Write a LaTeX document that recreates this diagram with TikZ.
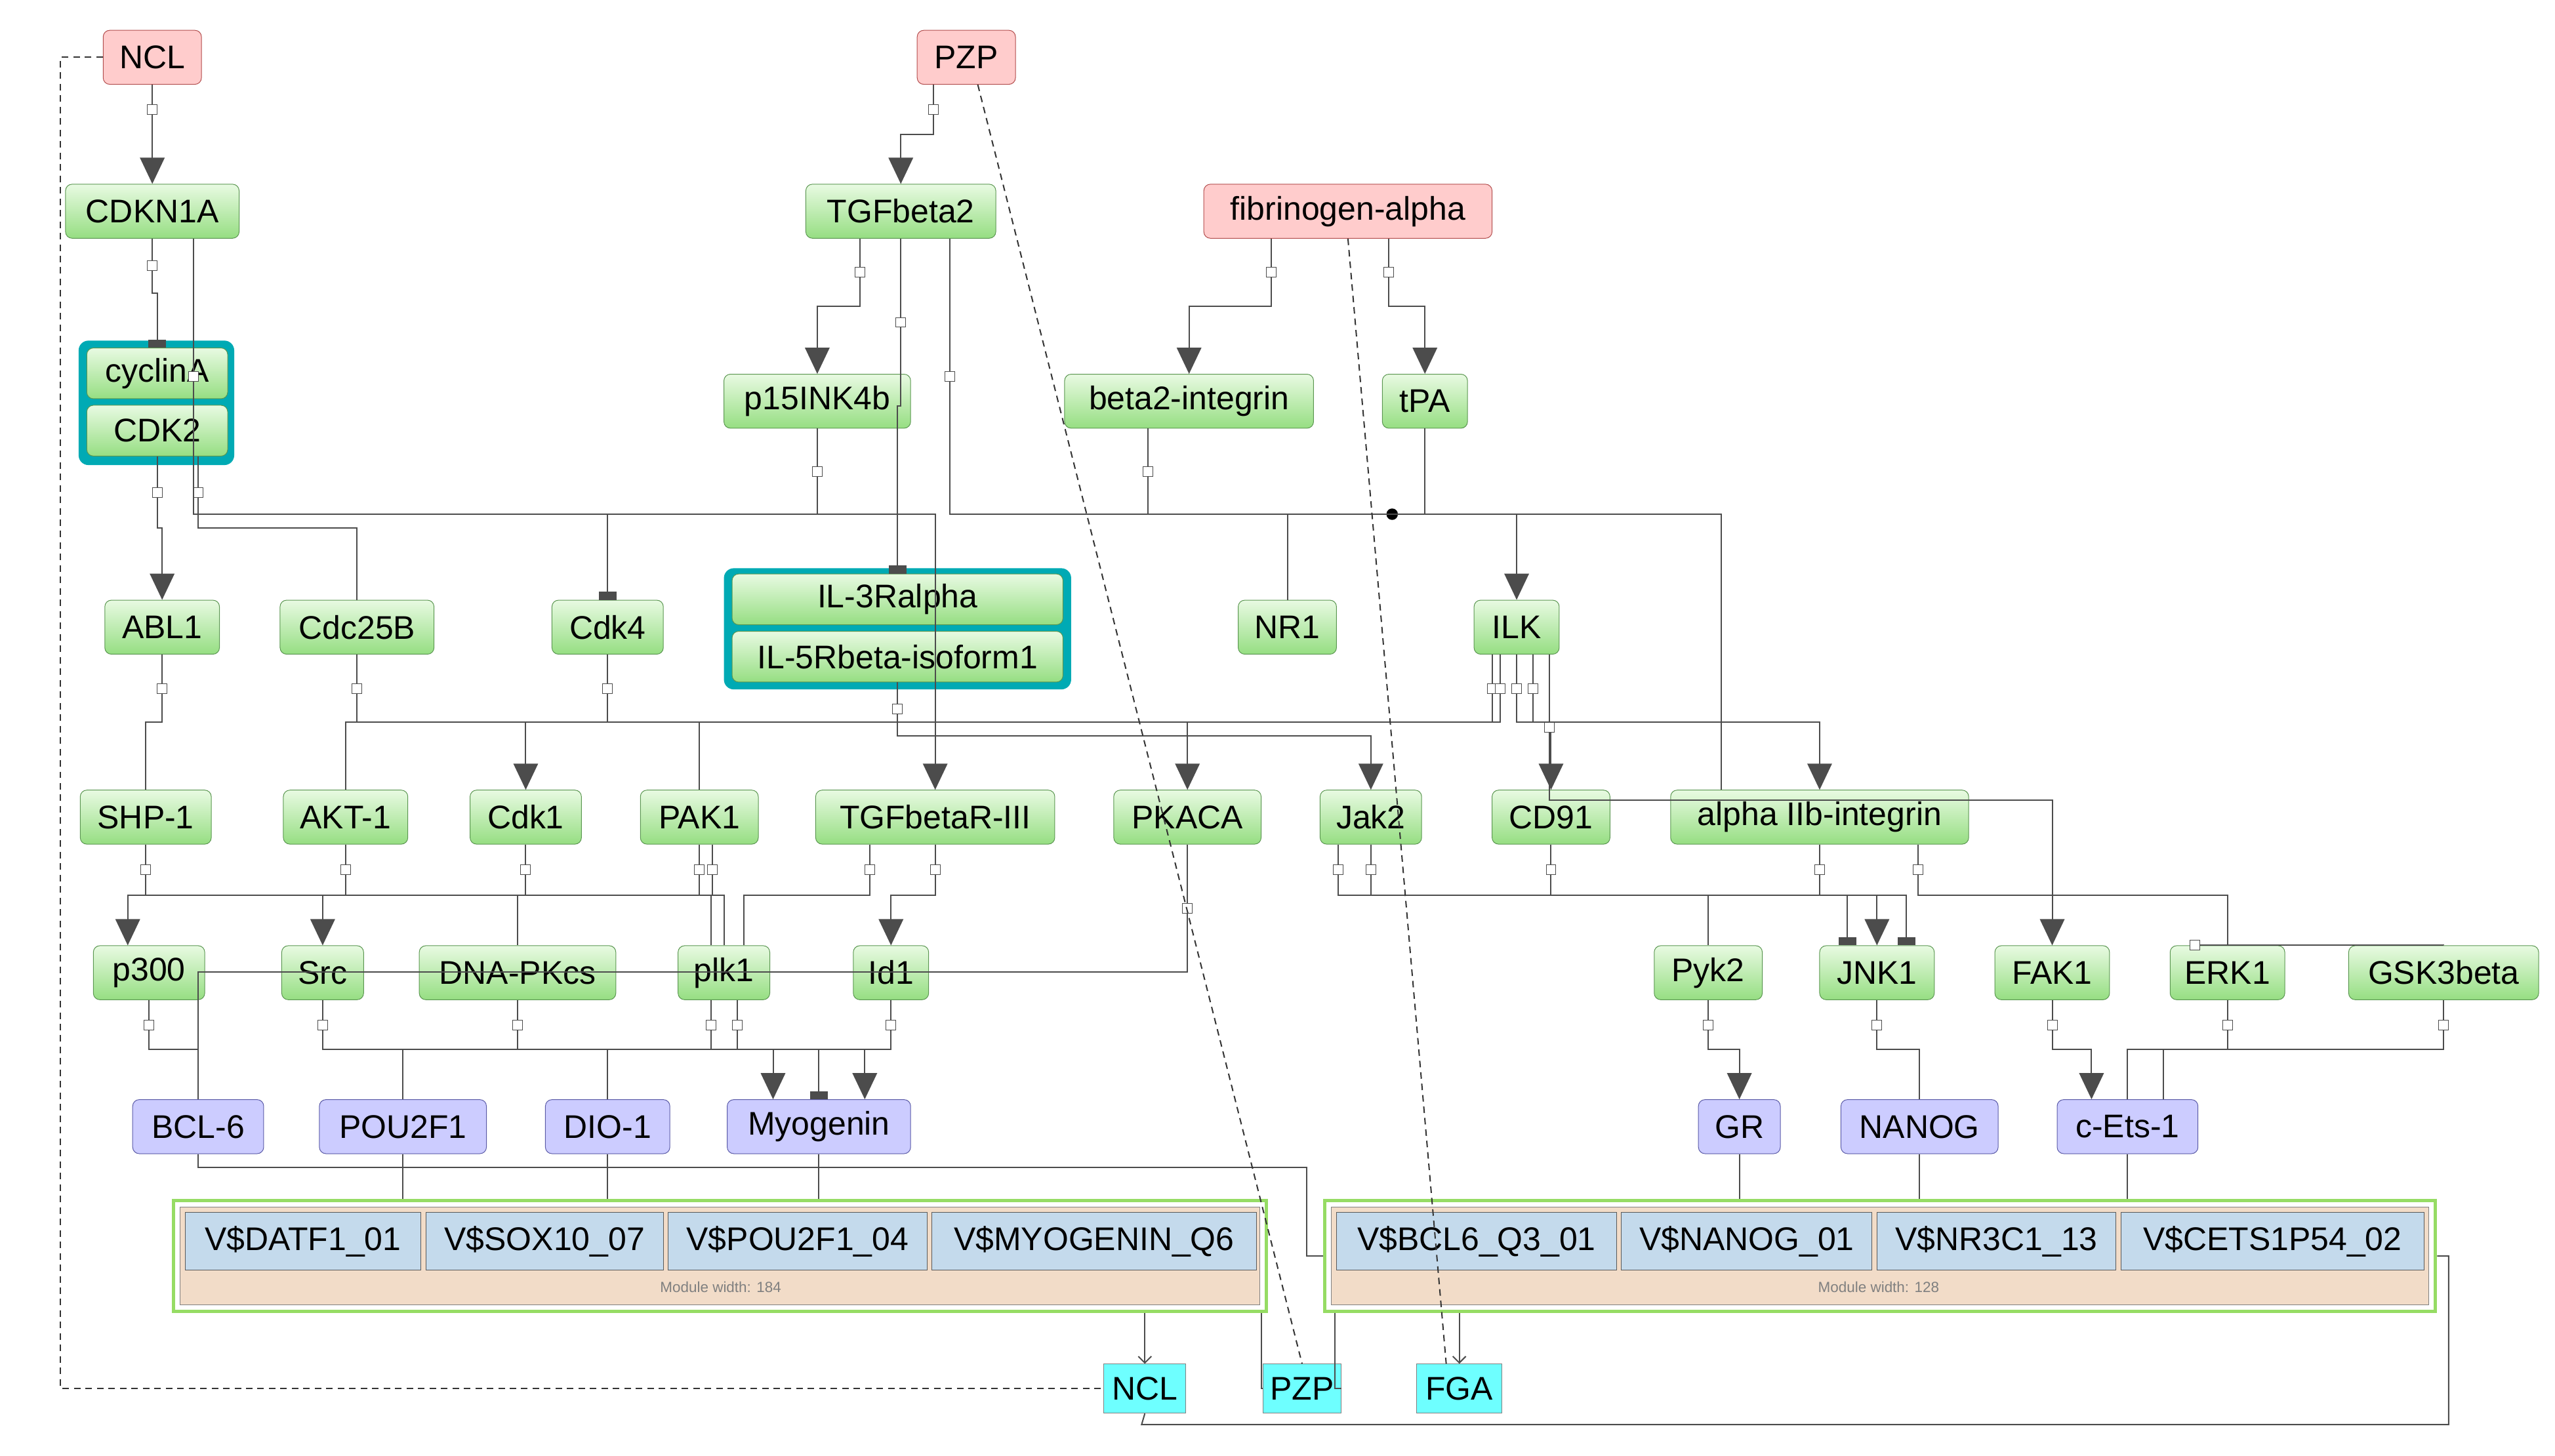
\documentclass[tikz,border=0pt]{standalone}
\usepackage{fontspec}
\setmainfont{Liberation Sans}
\usetikzlibrary{arrows.meta,calc,positioning}
\definecolor{gtop}{RGB}{232,250,226}
\definecolor{gbot}{RGB}{150,222,130}
\definecolor{gline}{RGB}{90,150,80}
\definecolor{pkfill}{RGB}{255,204,204}
\definecolor{pufill}{RGB}{204,204,255}
\definecolor{cyfill}{RGB}{110,255,255}
\definecolor{tffill}{RGB}{196,218,236}
\definecolor{modfill}{RGB}{242,220,200}
\definecolor{modline}{RGB}{150,220,100}
\definecolor{cplx}{RGB}{0,170,180}
\tikzset{
  box/.style={draw=gray!70!black, rounded corners=4pt, minimum height=33pt, inner sep=2pt, font=\fontsize{20}{24}\selectfont},
  gn/.style={box, top color=gtop, bottom color=gbot, draw=gline},
  pk/.style={box, fill=pkfill, draw=red!40!gray},
  pu/.style={box, fill=pufill, draw=blue!30!gray},
  cy/.style={box, fill=cyfill, rounded corners=0pt, draw=gray, minimum height=30pt},
  tf/.style={draw=gray!70!black, fill=tffill, minimum height=35pt, inner sep=1pt, font=\fontsize{20}{24}\selectfont},
  ln/.style={draw=gray!60!black, line width=0.8pt},
  dsh/.style={draw=black!80, line width=0.8pt, dash pattern=on 4pt off 3pt},
  tri/.style={-{Triangle[width=15pt,length=16pt]}, color=gray!60!black},
  bar/.style={-{Rectangle[width=11pt,length=5pt]}, color=gray!60!black},
  sq/.style={draw=gray!60!black, fill=white, minimum size=6pt, inner sep=0pt},
}
% link with a little square on its first leg
\newcommand\lnk[3][]{%
  \coordinate (ls) at (#2); \coordinate (lt) at (#3);
  \draw[ln,#1] (ls) |- ($(ls)!.5!(lt)$) -| (lt);
  \node[sq] at ($(ls)!.25!(ls |- lt)$) {};}
\begin{document}
\begin{tikzpicture}[x=1pt,y=-1pt]
\useasboundingbox (0,0) rectangle (1560,889);

% sources
\node[pk, minimum width=60pt] (ncl) at (93,35) {NCL};
\node[pk, minimum width=60pt] (pzp) at (590,35) {PZP};
\node[pk, minimum width=176pt] (fib) at (823,129) {fibrinogen-alpha};

% row 1-2
\node[gn, minimum width=106pt] (cdkn) at (93,129) {CDKN1A};
\node[gn, minimum width=116pt] (tgf) at (550,129) {TGFbeta2};
\fill[cplx, rounded corners=6pt] (48,208) rectangle (143,284);
\node[gn, minimum width=86pt, minimum height=31pt] (cyc) at (96,228) {cyclinA};
\node[gn, minimum width=86pt, minimum height=31pt] (cdk2) at (96,263) {CDK2};
\node[gn, minimum width=114pt] (p15) at (499,245) {p15INK4b};
\node[gn, minimum width=152pt] (b2i) at (726,245) {beta2-integrin};
\node[gn, minimum width=52pt] (tpa) at (870,245) {tPA};

% row 3
\node[gn, minimum width=70pt] (abl) at (99,383) {ABL1};
\node[gn, minimum width=94pt] (cdc) at (218,383) {Cdc25B};
\node[gn, minimum width=68pt] (cdk4) at (371,383) {Cdk4};
\fill[cplx, rounded corners=6pt] (442,347) rectangle (654,421);
\node[gn, minimum width=202pt, minimum height=31pt] (il3) at (548,366) {IL-3Ralpha};
\node[gn, minimum width=202pt, minimum height=31pt] (il5) at (548,401) {IL-5Rbeta-isoform1};
\node[gn, minimum width=60pt] (nr1) at (786,383) {NR1};
\node[gn, minimum width=52pt] (ilk) at (926,383) {ILK};

% row 4
\node[gn, minimum width=80pt] (shp) at (89,499) {SHP-1};
\node[gn, minimum width=76pt] (akt) at (211,499) {AKT-1};
\node[gn, minimum width=68pt] (cdk1) at (321,499) {Cdk1};
\node[gn, minimum width=72pt] (pak1) at (427,499) {PAK1};
\node[gn, minimum width=146pt] (tgfr) at (571,499) {TGFbetaR-III};
\node[gn, minimum width=90pt] (pka) at (725,499) {PKACA};
\node[gn, minimum width=62pt] (jak2) at (837,499) {Jak2};
\node[gn, minimum width=72pt] (cd91) at (947,499) {CD91};
\node[gn, minimum width=182pt] (aiib) at (1111,499) {alpha IIb-integrin};

% row 5
\node[gn, minimum width=68pt] (p300) at (91,594) {p300};
\node[gn, minimum width=50pt] (src) at (197,594) {Src};
\node[gn, minimum width=120pt] (dnapk) at (316,594) {DNA-PKcs};
\node[gn, minimum width=56pt] (plk1) at (442,594) {plk1};
\node[gn, minimum width=46pt] (id1) at (544,594) {Id1};
\node[gn, minimum width=66pt] (pyk2) at (1043,594) {Pyk2};
\node[gn, minimum width=70pt] (jnk1) at (1146,594) {JNK1};
\node[gn, minimum width=70pt] (fak1) at (1253,594) {FAK1};
\node[gn, minimum width=70pt] (erk1) at (1360,594) {ERK1};
\node[gn, minimum width=116pt] (gsk) at (1492,594) {GSK3beta};

% transcription factors
\node[pu, minimum width=80pt] (bcl6) at (121,688) {BCL-6};
\node[pu, minimum width=102pt] (pou) at (246,688) {POU2F1};
\node[pu, minimum width=76pt] (dio) at (371,688) {DIO-1};
\node[pu, minimum width=112pt] (myog) at (500,688) {Myogenin};
\node[pu, minimum width=50pt] (gr) at (1062,688) {GR};
\node[pu, minimum width=96pt] (nanog) at (1172,688) {NANOG};
\node[pu, minimum width=86pt] (cets) at (1299,688) {c-Ets-1};

% modules
\node[draw=modline, line width=2pt, minimum width=667pt, minimum height=68pt] (lmod) at (439.5,767) {};
\fill[modfill, draw=gray] (110,737) rectangle (769,797);
\node[draw=modline, line width=2pt, minimum width=678pt, minimum height=68pt] (rmod) at (1148,767) {};
\fill[modfill, draw=gray] (813,737) rectangle (1483,797);
\node[tf, minimum width=144pt] (t1) at (185,758) {V\$DATF1\_01};
\node[tf, minimum width=145pt] (t2) at (332.5,758) {V\$SOX10\_07};
\node[tf, minimum width=158pt] (t3) at (487,758) {V\$POU2F1\_04};
\node[tf, minimum width=198pt] (t4) at (668,758) {V\$MYOGENIN\_Q6};
\node[tf, minimum width=171pt] (t5) at (901.5,758) {V\$BCL6\_Q3\_01};
\node[tf, minimum width=153pt] (t6) at (1066.5,758) {V\$NANOG\_01};
\node[tf, minimum width=146pt] (t7) at (1219,758) {V\$NR3C1\_13};
\node[tf, minimum width=185pt] (t8) at (1387.5,758) {V\$CETS1P54\_02};
\node[font=\fontsize{9}{10}\selectfont, text=gray] (lw) at (440,786) {Module width: 184};
\node[font=\fontsize{9}{10}\selectfont, text=gray] (rw) at (1147,786) {Module width: 128};

% targets
\node[cy, minimum width=50pt] (nclc) at (699,848) {NCL};
\node[cy, minimum width=48pt] (pzpc) at (795,848) {PZP};
\node[cy, minimum width=52pt] (fgac) at (891,848) {FGA};

% links
\lnk[tri]{ncl.south}{cdkn.north}
\lnk[tri]{[xshift=-20pt]pzp.south}{tgf.north}
\lnk[tri]{[xshift=-47pt]fib.south}{b2i.north}
\lnk[tri]{[xshift=25pt]fib.south}{tpa.north}
\lnk[bar]{cdkn.south}{cyc.north}
\lnk[tri]{[xshift=-25pt]tgf.south}{p15.north}
\lnk[bar]{tgf.south}{il3.north}
\lnk[tri]{cdk2.south}{abl.north}
\lnk{[xshift=25pt]cdk2.south}{cdc.north}
\lnk[bar]{p15.south}{cdk4.north}
\lnk[tri]{[xshift=-25pt]b2i.south}{ilk.north}
\draw[ln] (tpa.south) |- (850,314) -| (nr1.north);
\fill (850,314) circle (3.5pt);
\lnk{abl.south}{shp.north}
\lnk[tri]{cdc.south}{cdk1.north}
\lnk{cdk4.south}{pak1.north}
\lnk[tri]{il5.south}{jak2.north}
\lnk[tri]{[xshift=-15pt]ilk.south}{pka.north}
\lnk{[xshift=-10pt]ilk.south}{akt.north}
\lnk[tri]{ilk.south}{cd91.north}
\lnk[tri]{[xshift=10pt]ilk.south}{aiib.north}
\lnk[tri]{[xshift=25pt]cdkn.south}{tgfr.north}
\lnk{[xshift=30pt]tgf.south}{[xshift=-60pt]aiib.north}
\lnk[tri]{pak1.south}{[xshift=-13pt]p300.north}
\lnk[tri]{akt.south}{src.north}
\lnk{shp.south}{dnapk.north}
\lnk{cdk1.south}{[xshift=-8pt]plk1.north}
\lnk{[xshift=8pt]pak1.south}{plk1.north}
\lnk[tri]{tgfr.south}{id1.north}
\lnk{[xshift=-40pt]tgfr.south}{[xshift=12pt]plk1.north}
\lnk{pka.south}{bcl6.north}
\lnk{jak2.south}{pyk2.north}
\lnk[bar]{cd91.south}{[xshift=-18pt]jnk1.north}
\lnk[tri]{aiib.south}{jnk1.north}
\lnk[bar]{[xshift=-20pt]jak2.south}{[xshift=18pt]jnk1.north}
\lnk[tri]{[xshift=20pt]ilk.south}{fak1.north}
\lnk{[xshift=60pt]aiib.south}{erk1.north}
\lnk{[xshift=-20pt]erk1.north}{gsk.north}
\lnk{p300.south}{bcl6.north}
\lnk[tri]{src.south}{[xshift=-28pt]myog.north}
\lnk{dnapk.south}{pou.north}
\lnk{[xshift=-8pt]plk1.south}{dio.north}
\lnk[bar]{id1.south}{myog.north}
\lnk[tri]{[xshift=8pt]plk1.south}{[xshift=28pt]myog.north}
\lnk[tri]{pyk2.south}{gr.north}
\lnk{jnk1.south}{nanog.north}
\lnk[tri]{fak1.south}{[xshift=-22pt]cets.north}
\lnk{erk1.south}{cets.north}
\lnk{gsk.south}{[xshift=22pt]cets.north}

% factors to modules
\draw[ln] (pou.south) -- (pou.south |- lmod.north);
\draw[ln] (dio.south) -- (dio.south |- lmod.north);
\draw[ln] (myog.south) -- (myog.south |- lmod.north);
\draw[ln] (gr.south) -- (gr.south |- rmod.north);
\draw[ln] (nanog.south) -- (nanog.south |- rmod.north);
\draw[ln] (cets.south) -- (cets.south |- rmod.north);
\draw[ln] (bcl6.south) |- (798,713) |- (rmod.west);

% modules to targets
\draw[ln,-{Straight Barb[length=4pt]}] (lmod.south -| nclc) -- (nclc.north);
\draw[ln] (lmod.south -| 770,0) -- (770,848) -- (pzpc.west);
\draw[ln] (rmod.south -| 815,0) -- (815,848) -- (pzpc.east);
\draw[ln,-{Straight Barb[length=4pt]}] (rmod.south -| fgac) -- (fgac.north);
\draw[ln] (rmod.east) -- (1495,767) |- (697,870) -- (nclc.south);

% database links
\draw[dsh] (ncl.west) -| (37,848) -- (nclc.west);
\draw[dsh] ([xshift=7pt]pzp.south) -- (pzpc.north);
\draw[dsh] (fib.south) -- ([xshift=-8pt]fgac.north);
\end{tikzpicture}
\end{document}
